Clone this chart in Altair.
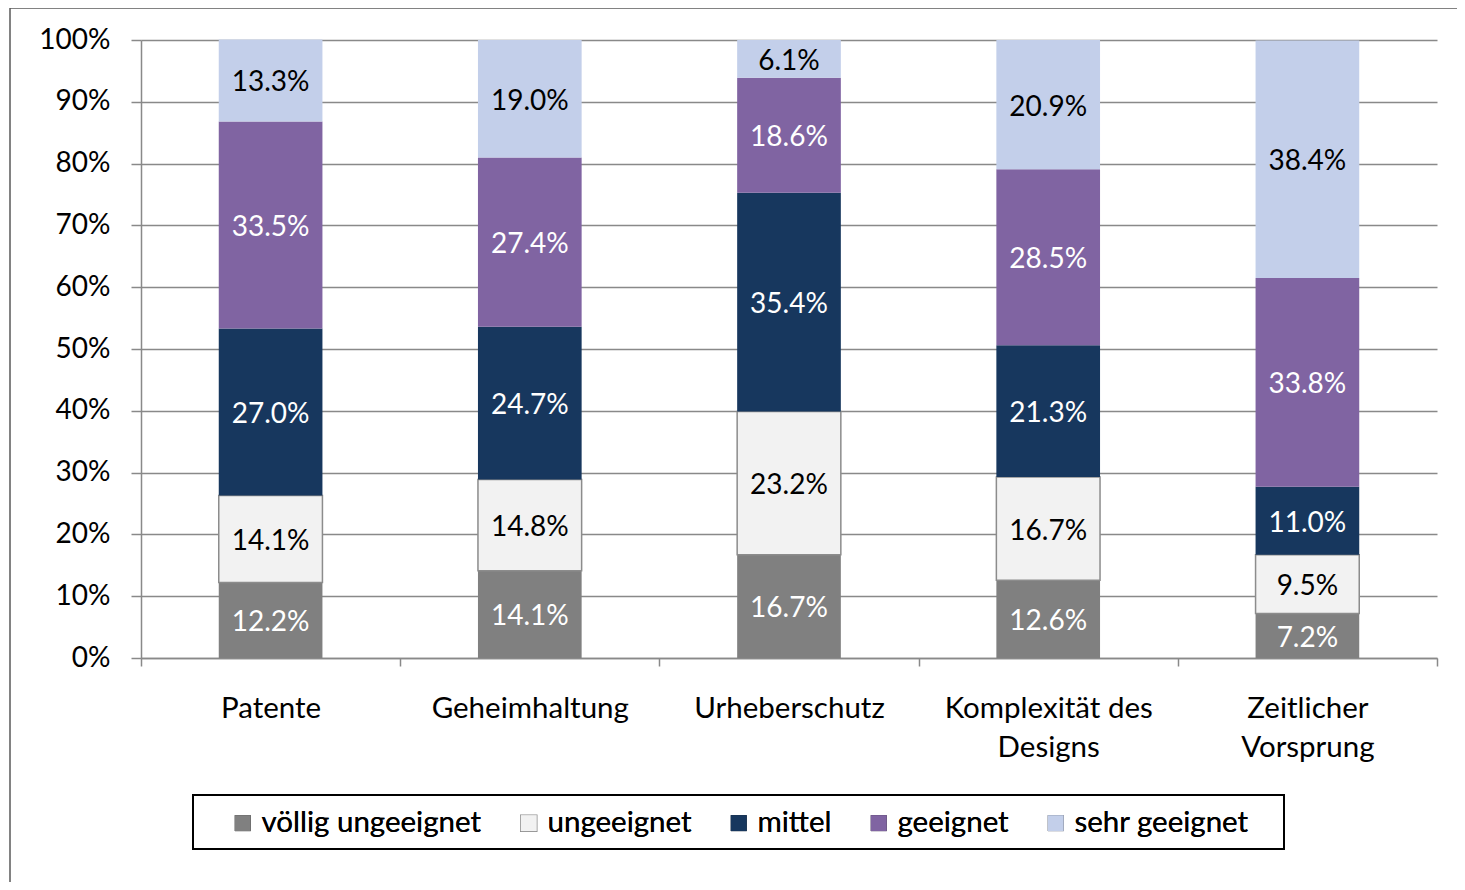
import altair as alt
import pandas as pd

categories = ["Patente", "Geheimhaltung", "Urheberschutz",
              "Komplexität des Designs", "Zeitlicher Vorsprung"]
category_lines = [["Patente"], ["Geheimhaltung"], ["Urheberschutz"],
                  ["Komplexität des", "Designs"], ["Zeitlicher", "Vorsprung"]]
series = ["völlig ungeeignet", "ungeeignet", "mittel", "geeignet", "sehr geeignet"]

voellig_ungeeignet = [12.2, 14.1, 16.7, 12.6, 7.2]
ungeeignet = [14.1, 14.8, 23.2, 16.7, 9.5]
mittel = [27.0, 24.7, 35.4, 21.3, 11.0]
geeignet = [33.5, 27.4, 18.6, 28.5, 33.8]
sehr_geeignet = [13.3, 19.0, 6.1, 20.9, 38.4]

y_ticks = [0, 10, 20, 30, 40, 50, 60, 70, 80, 90, 100]

fill_colors = ["#808080", "#f2f2f2", "#17375e", "#8064a2", "#c3cfea"]
stroke_colors = ["transparent", "#8c8c8c", "transparent", "transparent", "transparent"]
text_colors = ["#ffffff", "#000000", "#ffffff", "#ffffff", "#000000"]

values_by_series = [voellig_ungeeignet, ungeeignet, mittel, geeignet, sehr_geeignet]
rows = []
for si, (s, vals) in enumerate(zip(series, values_by_series)):
    for ci, c in enumerate(categories):
        rows.append({"category": c, "series": s, "idx": si, "value": vals[ci]})
df = pd.DataFrame(rows)

# multi-line x labels
label_expr = "datum.value"
for c, lines in zip(categories, category_lines):
    arr = "[" + ",".join("'" + l + "'" for l in lines) + "]"
    label_expr = f"datum.value == '{c}' ? {arr} : ({label_expr})"

GRID = "#898989"
FONT = "Lato"

base = alt.Chart(df).transform_stack(
    stack="value", groupby=["category"], as_=["start", "end"],
    sort=[alt.SortField("idx", order="ascending")]
).transform_calculate(
    mid="(datum.start + datum.end) / 2",
    label="format(datum.value, '.1f') + '%'"
)

x_enc = alt.X("category:N", sort=categories,
              scale=alt.Scale(paddingInner=0, paddingOuter=0),
              axis=alt.Axis(title=None, labelExpr=label_expr, tickBand="extent",
                            labelAngle=0, labelFont=FONT, labelFontSize=29.5,
                            labelColor="#000000", labelPadding=28, labelLimit=500,
                            labelLineHeight=39, tickSize=8, tickColor=GRID,
                            tickWidth=1.5, domainColor=GRID, domainWidth=1.5,
                            grid=False, labelBaseline="top"))

bars = base.mark_bar(width=alt.RelativeBandSize(0.4), strokeWidth=1.5).encode(
    x=x_enc,
    y=alt.Y("start:Q", scale=alt.Scale(domain=[0, 100], nice=False),
            axis=alt.Axis(title=None, values=y_ticks,
                          labelExpr="datum.value + '%'",
                          labelFont=FONT, labelFontSize=28, labelColor="#000000",
                          labelPadding=21, tickSize=10, tickColor=GRID, tickWidth=1.5,
                          domainColor=GRID, domainWidth=1.5,
                          grid=True, gridColor=GRID, gridWidth=1.5)),
    y2="end:Q",
    color=alt.Color("series:N", sort=series,
                    scale=alt.Scale(domain=series, range=fill_colors),
                    legend=alt.Legend(title=None)),
    stroke=alt.Stroke("series:N", sort=series,
                      scale=alt.Scale(domain=series, range=stroke_colors),
                      legend=alt.Legend(title=None)),
)

texts = base.mark_text(font=FONT, fontSize=28, baseline="middle", dy=3).encode(
    x=alt.X("category:N", sort=categories),
    y=alt.Y("mid:Q"),
    text="label:N",
    color=alt.Color("series:N", scale=alt.Scale(domain=series, range=text_colors),
                    legend=None),
)

one = alt.Chart(alt.Data(values=[{"k": 0}]))
legend_box = one.mark_rect(fill="transparent", stroke="#000000", strokeWidth=2).encode(
    x=alt.value(52), x2=alt.value(1143), y=alt.value(755), y2=alt.value(809))
frame = one.mark_rect(fill="transparent", stroke="#595959", strokeWidth=1.5).encode(
    x=alt.value(-131), x2=alt.value(1500), y=alt.value(-32), y2=alt.value(900))

chart = alt.layer(frame, bars, texts, legend_box).resolve_scale(
    color="independent"
).properties(
    width=1296, height=618,
    autosize=alt.AutoSizeParams(type="none"),
    padding={"left": 133, "top": 32, "right": 20, "bottom": 224},
).configure_view(stroke=None).configure_legend(
    orient="none", legendX=87, legendY=768, direction="horizontal",
    symbolType="square", symbolSize=256, symbolStrokeWidth=1.5,
    labelFont=FONT, labelFontSize=29.5, labelColor="#000000",
    labelOffset=4, columnPadding=32, padding=0, labelLimit=500,
)

chart.save("out.html", embed_options={"renderer": "svg", "actions": False})
